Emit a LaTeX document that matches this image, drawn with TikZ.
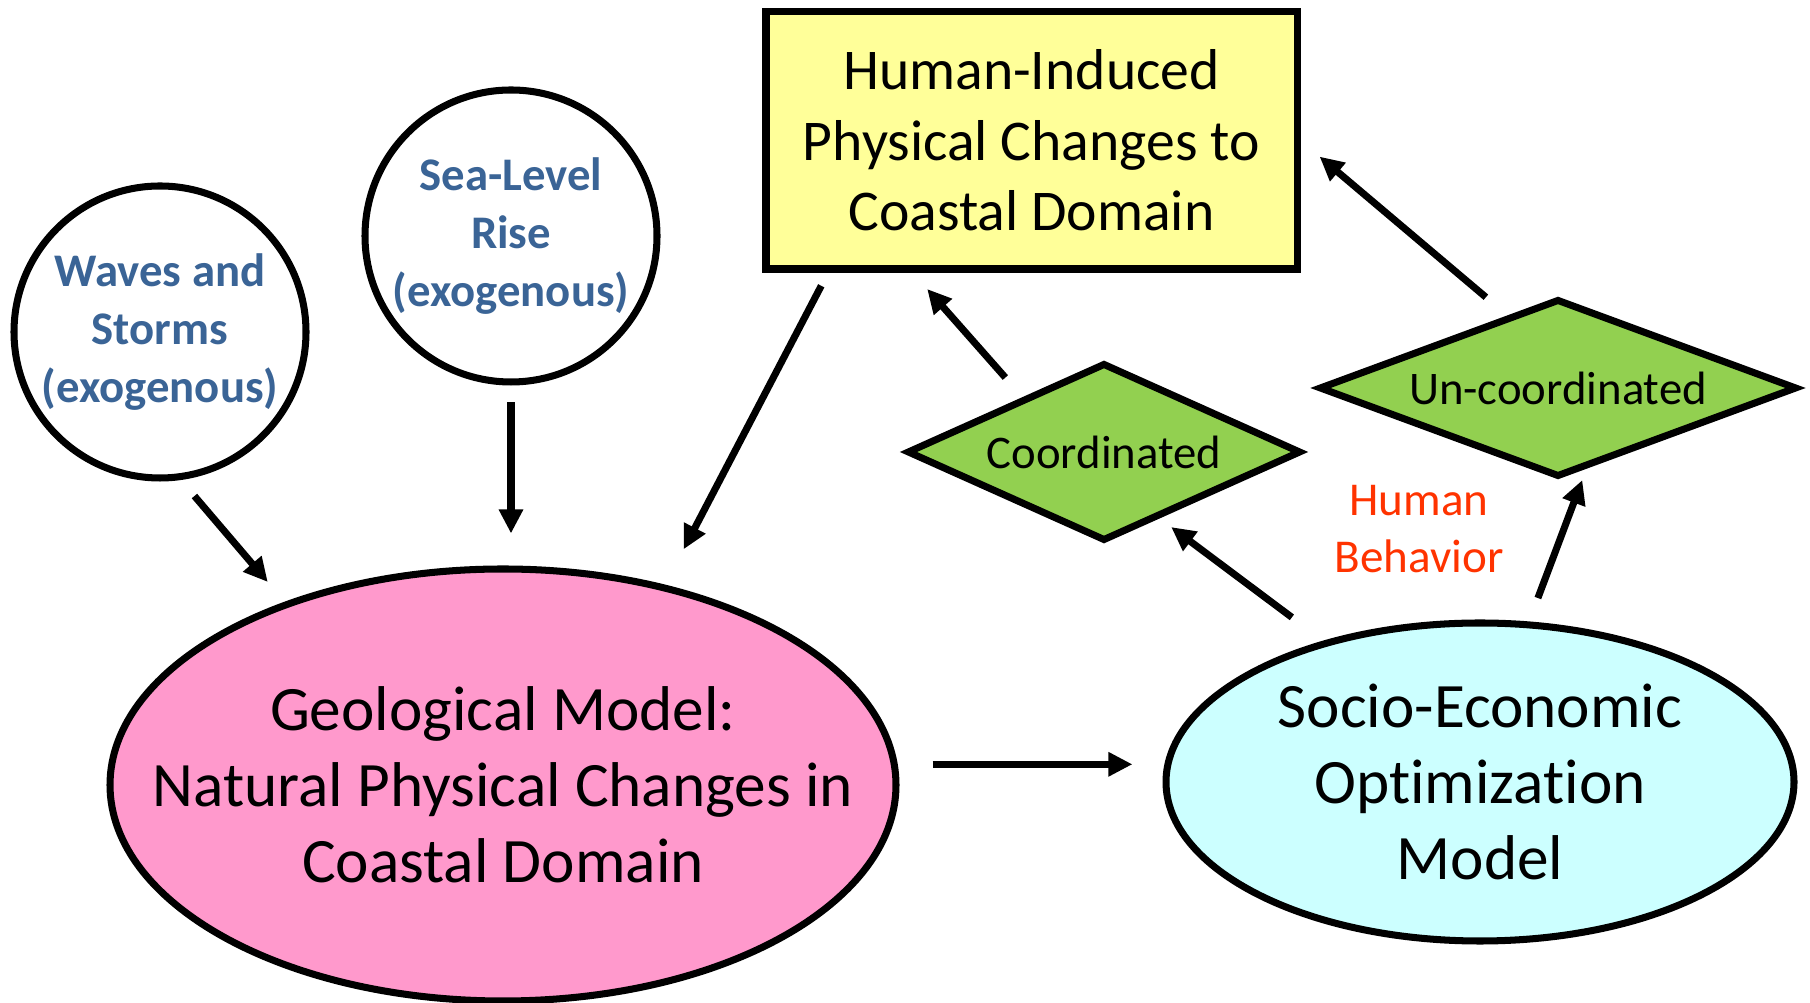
\documentclass[tikz,border=0pt]{standalone}
\usepackage{fontspec}
\setmainfont[Ligatures={NoCommon,NoContextual,NoRare}]{Carlito}
\usetikzlibrary{shapes.geometric,arrows.meta}
\definecolor{exoblue}{HTML}{3A6496}
\definecolor{behavred}{HTML}{FF3300}
\definecolor{humyellow}{HTML}{FFFF99}
\definecolor{geopink}{HTML}{FF99CC}
\definecolor{socicyan}{HTML}{CCFFFF}
\definecolor{choicegreen}{HTML}{92D050}

\begin{document}
\begin{tikzpicture}[
  exo/.style={draw, circle, line width=2pt, fill=white, minimum size=2.92cm,
               inner sep=-3pt, align=center, text=exoblue,
               font=\fontsize{13.3}{16.4}\selectfont\bfseries},
  model/.style={draw, ellipse, line width=2pt, align=center,
               font=\fontsize{18}{21.6}\selectfont},
  human/.style={draw, rectangle, line width=2pt, fill=humyellow,
               minimum width=5.31cm, minimum height=2.57cm, align=center,
               font=\fontsize{16.4}{20}\selectfont},
  choice/.style={draw, diamond, line width=2pt, fill=choicegreen,
               inner sep=0pt, font=\fontsize{13.3}{16}\selectfont},
  link/.style={line width=2pt, -{Triangle[length=0.24cm, width=0.23cm]}},
]
\useasboundingbox (0,0) rectangle (18.10,-10.03);

% Exogenous drivers (top left).
\node[exo] (waves) at (1.60,-3.32) {Waves and\\ Storms\\ (exogenous)};
\node[exo] (sea) at (5.11,-2.36) {Sea-Level\\ Rise\\ (exogenous)};

% Human-induced changes box.
\node[human] (box) at (10.315,-1.405)
  {Human-Induced\\ Physical Changes to\\ Coastal Domain};

% The two models.
\node[model, fill=geopink, minimum width=7.86cm, minimum height=4.32cm,
      inner xsep=-0.8cm, inner ysep=0pt] (geo) at (5.03,-7.85)
  {Geological Model:\\ Natural Physical Changes in\\ Coastal Domain};
\node[model, fill=socicyan, minimum width=6.28cm, minimum height=3.18cm,
      inner xsep=0pt, inner ysep=-3pt] (socio) at (14.80,-7.82)
  {Socio-Economic\\ Optimization\\ Model};

% Human behaviour choices.
\node[choice, aspect=2.21, minimum width=3.94cm, minimum height=1.78cm]
  (coord) at (11.04,-4.52) {Coordinated};
\node[choice, aspect=2.69, minimum width=4.78cm, minimum height=1.78cm]
  (uncoord) at (15.58,-3.88) {Un-coordinated};
\node[text=behavred, align=center, font=\fontsize{13.4}{16.1}\selectfont]
  (behav) at (14.19,-5.29) {Human\\ Behavior};

% Connectors.
\draw[link, shorten <=0.21cm, shorten >=0.26cm] (waves.-82.8) -- (geo.140.2);
\draw[link, shorten <=0.165cm, shorten >=0.32cm] (sea.south) -- (sea.south |- geo.north);
\draw[link, shorten <=0.15cm, shorten >=0.40cm] (box.213.2) -- (geo.51.8);
\draw[link, shorten <=0.35cm, shorten >=0.33cm] (geo.3.2) -- (geo.3.2 -| socio.176.5);
\draw[link, shorten <=0.39cm, shorten >=0.14cm] (socio.138) -- (coord.-50.2);
\draw[link, shorten <=0.25cm, shorten >=0.11cm] (socio.73.6) -- (uncoord.-71.4);
\draw[link, shorten <=0.26cm, shorten >=0.22cm] (coord.146.2) -- (box.228);
\draw[link, shorten <=0.275cm, shorten >=0.25cm] (uncoord.125.3) -- (box.east);

\end{tikzpicture}
\end{document}
